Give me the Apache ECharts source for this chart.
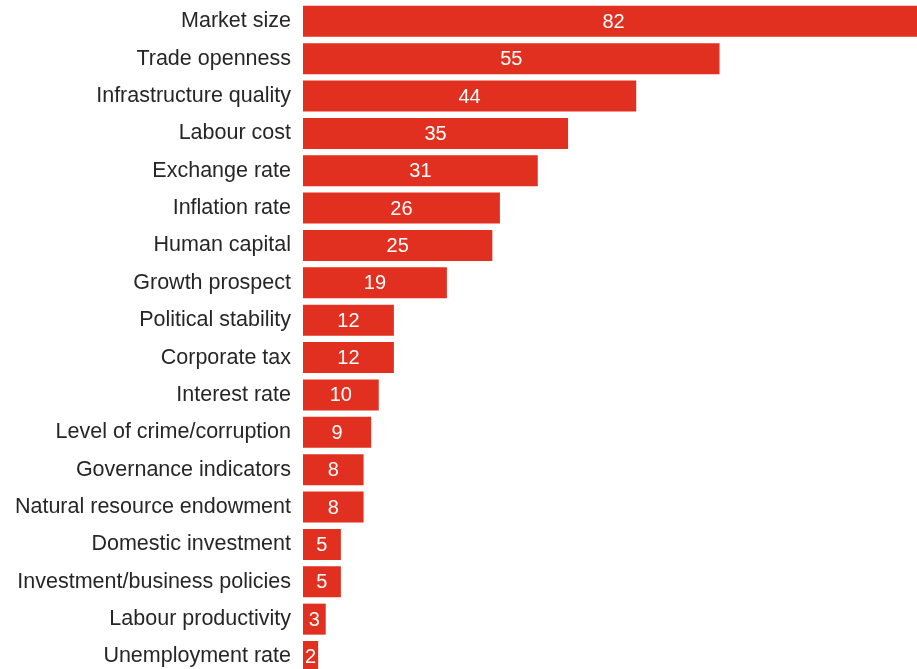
<!DOCTYPE html>
<html>
<head>
<meta charset="utf-8">
<script src="https://cdn.jsdelivr.net/npm/echarts@6/dist/echarts.min.js"></script>
<style>html,body{margin:0;padding:0;background:#fff;overflow:hidden;width:917px;height:669px}#c{width:924px;height:676px}</style>
</head>
<body>
<div id="c"></div>
<script>
var categories = ["Market size","Trade openness","Infrastructure quality","Labour cost","Exchange rate","Inflation rate","Human capital","Growth prospect","Political stability","Corporate tax","Interest rate","Level of crime/corruption","Governance indicators","Natural resource endowment","Domestic investment","Investment/business policies","Labour productivity","Unemployment rate"];
var values = [82,55,44,35,31,26,25,19,12,12,10,9,8,8,5,5,3,2];

var chart = echarts.init(document.getElementById('c'), null, {renderer:'canvas'});
chart.setOption({
  animation:false,
  grid:{left:303,right:0,top:2.6,bottom:0.8,containLabel:false},
  xAxis:{type:'value',min:0,max:82,show:false},
  yAxis:{type:'category',data:categories,inverse:true,
    axisLine:{show:false},axisTick:{show:false},splitLine:{show:false},
    axisLabel:{margin:12,fontSize:21.5,color:'#262626',fontFamily:'Liberation Sans'}},
  series:[{type:'bar',data:values,barCategoryGap:'17%',
    itemStyle:{color:'#e1301f'},
    label:{show:true,position:'inside',color:'#fff',fontSize:20,fontFamily:'Liberation Sans',offset:[0,1]}}]
});
</script>
</body>
</html>
